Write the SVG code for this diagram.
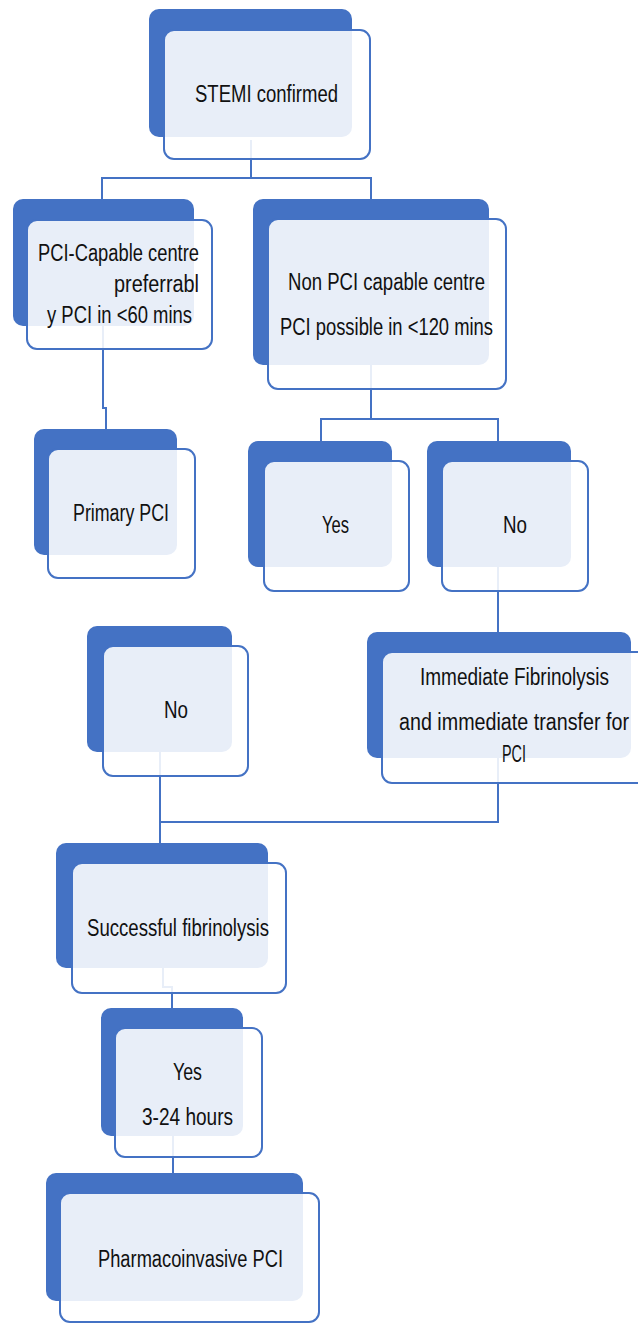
<svg xmlns="http://www.w3.org/2000/svg" width="638" height="1323" viewBox="0 0 638 1323">
<style>
.bk{fill:#4472C4;}
.fr{fill:#FFFFFF;fill-opacity:0.88;stroke:#4472C4;stroke-width:2;}
.cn{fill:none;stroke:#4472C4;stroke-width:2;}
.t{font-family:"Liberation Sans",Arial,sans-serif;font-size:23px;fill:#111111;}
</style>
<rect width="638" height="1323" fill="#FFFFFF"/>
<g id="connectors">
<path class="cn" d="M251,140 V178 M102,199 V178 H371 V199"/>
<path class="cn" d="M103,326 V408 H106 V429"/>
<path class="cn" d="M371,365 V419 M321,441 V419 H498 V441"/>
<path class="cn" d="M498,567 V632"/>
<path class="cn" d="M498,758 V822 H160 M160,752 V843"/>
<path class="cn" d="M163,968 V987 H172 V1008"/>
<path class="cn" d="M173,1136 V1173"/>
</g>
<g id="n1">
<rect class="bk" x="149" y="9" width="203" height="128" rx="10"/>
<rect class="fr" x="164" y="30" width="206" height="129" rx="10"/>
<text class="t" x="195" y="102" font-size="21" textLength="143" lengthAdjust="spacingAndGlyphs">STEMI confirmed</text>
</g>
<g id="n2">
<rect class="bk" x="13" y="199" width="181" height="127" rx="10"/>
<rect class="fr" x="27" y="220" width="185" height="129" rx="10"/>
<text class="t" x="38" y="261" textLength="161" lengthAdjust="spacingAndGlyphs">PCI-Capable centre</text>
<text class="t" x="114" y="292" textLength="85" lengthAdjust="spacingAndGlyphs">preferrabl</text>
<text class="t" x="47" y="323" textLength="145" lengthAdjust="spacingAndGlyphs">y PCI in &lt;60 mins</text>
</g>
<g id="n3">
<rect class="bk" x="253" y="199" width="236" height="166" rx="10"/>
<rect class="fr" x="268" y="219" width="238" height="170" rx="10"/>
<text class="t" x="288" y="290" textLength="197" lengthAdjust="spacingAndGlyphs">Non PCI capable centre</text>
<text class="t" x="280" y="335" textLength="213" lengthAdjust="spacingAndGlyphs">PCI possible in &lt;120 mins</text>
</g>
<g id="n4">
<rect class="bk" x="34" y="429" width="143" height="126" rx="10"/>
<rect class="fr" x="48" y="449" width="147" height="129" rx="10"/>
<text class="t" x="73" y="521" textLength="96" lengthAdjust="spacingAndGlyphs">Primary PCI</text>
</g>
<g id="n5">
<rect class="bk" x="248" y="441" width="144" height="126" rx="10"/>
<rect class="fr" x="264" y="461" width="145" height="130" rx="10"/>
<text class="t" x="322" y="533" textLength="27" lengthAdjust="spacingAndGlyphs">Yes</text>
</g>
<g id="n6">
<rect class="bk" x="427" y="441" width="144" height="126" rx="10"/>
<rect class="fr" x="442" y="461" width="146" height="130" rx="10"/>
<text class="t" x="503" y="533" textLength="24" lengthAdjust="spacingAndGlyphs">No</text>
</g>
<g id="n7">
<rect class="bk" x="87" y="626" width="145" height="126" rx="10"/>
<rect class="fr" x="103" y="646" width="145" height="130" rx="10"/>
<text class="t" x="164" y="718" textLength="24" lengthAdjust="spacingAndGlyphs">No</text>
</g>
<g id="n8">
<rect class="bk" x="367" y="632" width="264" height="126" rx="10"/>
<rect class="fr" x="382" y="652" width="270" height="131" rx="10"/>
<text class="t" x="420" y="685" textLength="189" lengthAdjust="spacingAndGlyphs">Immediate Fibrinolysis</text>
<text class="t" x="399" y="730" textLength="230" lengthAdjust="spacingAndGlyphs">and immediate transfer for</text>
<text class="t" x="502" y="762" textLength="24" lengthAdjust="spacingAndGlyphs">PCI</text>
</g>
<g id="n9">
<rect class="bk" x="56" y="843" width="212" height="125" rx="10"/>
<rect class="fr" x="72" y="863" width="214" height="130" rx="10"/>
<text class="t" x="87" y="936" textLength="182" lengthAdjust="spacingAndGlyphs">Successful fibrinolysis</text>
</g>
<g id="n10">
<rect class="bk" x="101" y="1008" width="142" height="128" rx="10"/>
<rect class="fr" x="115" y="1028" width="147" height="129" rx="10"/>
<text class="t" x="173" y="1080" textLength="29" lengthAdjust="spacingAndGlyphs">Yes</text>
<text class="t" x="142" y="1125" textLength="91" lengthAdjust="spacingAndGlyphs">3-24 hours</text>
</g>
<g id="n11">
<rect class="bk" x="46" y="1173" width="257" height="128" rx="10"/>
<rect class="fr" x="60" y="1193" width="259" height="129" rx="10"/>
<text class="t" x="98" y="1267" textLength="185" lengthAdjust="spacingAndGlyphs">Pharmacoinvasive PCI</text>
</g>
</svg>
